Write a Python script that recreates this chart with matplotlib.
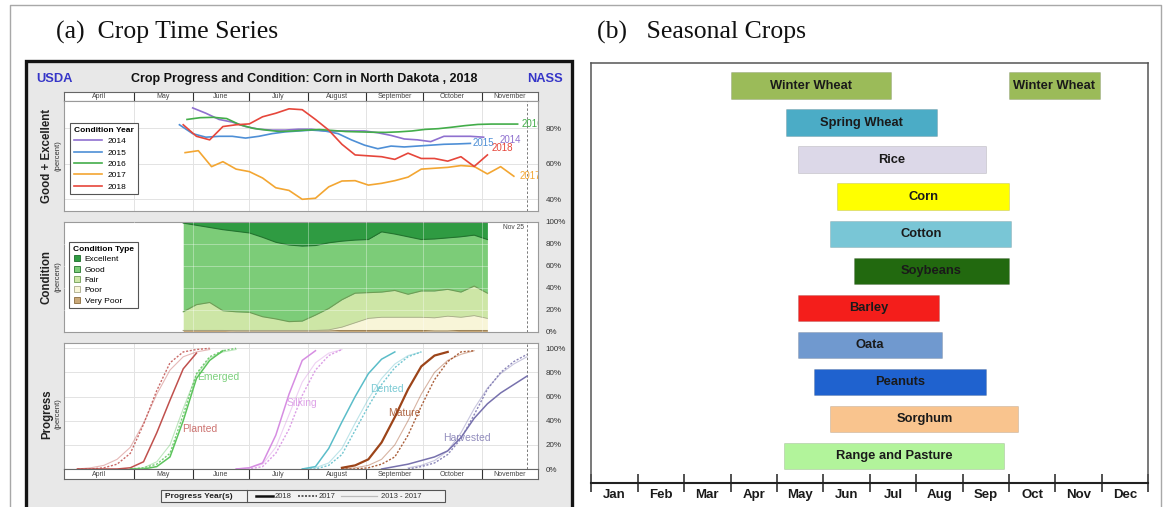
import matplotlib
matplotlib.use("Agg")
import matplotlib.pyplot as plt
from matplotlib.patches import Rectangle
from matplotlib.lines import Line2D
import numpy as np

plt.rcParams['font.family'] = ['Liberation Sans', 'DejaVu Sans']
SERIF = ['Liberation Serif', 'DejaVu Serif']

# ---------------------------------------------------------------------------
# (a) Corn in North Dakota, 2018 -- day-of-year calendar (2018)
# ---------------------------------------------------------------------------
band_months = ["April", "May", "June", "July", "August", "September", "October", "November"]
band_edges = [84, 121, 152, 182, 213, 244, 274, 305, 335]   # Mar 25 ... Dec 1
nov25 = 329

# Good + Excellent share by year (percent), weekly
ge_days_2014 = [152, 159, 166, 173, 180, 187, 194, 201, 208, 215, 222, 229, 236, 243,
                250, 257, 264, 271, 278, 285, 292, 299, 306]
ge_2014 = [91.5, 88.5, 85, 83.5, 81, 79.5, 79, 79, 79.5, 79.5, 78.5, 78.5, 78.5, 78.5,
           77.5, 76, 74, 73.5, 72.5, 75.5, 75.5, 75.5, 75]
ge_days_2015 = [145, 152, 159, 166, 173, 180, 187, 194, 201, 208, 215, 222, 229, 236,
                243, 250, 257, 264, 271, 278, 285, 292, 299]
ge_2015 = [82, 77, 75, 75.5, 75.5, 74.5, 75.5, 77, 78, 78.5, 79, 78.5, 77, 73.5,
           70.5, 68.5, 70, 69.5, 70, 70.5, 71, 71.2, 71.5]
ge_days_2016 = [149, 156, 163, 170, 177, 184, 191, 198, 205, 212, 219, 226, 233, 240,
                247, 254, 261, 268, 275, 282, 289, 296, 303, 310, 317, 324]
ge_2016 = [85, 86, 86.2, 85.5, 82, 80, 79, 78.2, 78.5, 79, 79.3, 78.8, 78.2, 78,
           77.8, 77.7, 78, 78.5, 79.4, 79.8, 80.6, 81.5, 82.2, 82.4, 82.4, 82.4]
ge_days_2017 = [148, 155, 162, 168, 175, 182, 189, 196, 203, 210, 217, 224, 231, 238,
                245, 252, 259, 266, 273, 280, 287, 294, 301, 308, 315, 322]
ge_2017 = [66.3, 67.4, 58.4, 61.2, 57, 55.6, 52, 46.5, 45, 40, 40.6, 47, 50.3, 50.5,
           48, 49, 50.5, 52.5, 57, 57.5, 58, 59, 58.5, 54.3, 58.4, 53]

# 2018 condition ratings (percent), weekly
cond_days = [147, 154, 161, 168, 175, 182, 189, 196, 203, 210, 217, 224,
             231, 238, 245, 252, 259, 266, 273, 280, 287, 294, 301, 308]
excellent_2018 = [1, 3, 5, 7, 8.5, 10, 14, 18.5, 21, 22, 21.5, 19,
                  17.5, 16.5, 16, 9, 11, 13.5, 16, 15.5, 14.5, 13.5, 12, 16]
good_2018 = [81, 72.5, 68.5, 74, 73.5, 72.5, 72.5, 70, 70, 68.5, 63.5, 60,
             53.5, 48.5, 48.5, 55, 51.5, 52.5, 47, 47.5, 47, 50.5, 46.5, 49]
poor_2018 = [0, 0, 0, 0, 0.5, 0.5, 0.5, 0.5, 0.5, 0.5, 0.5, 1,
             3, 7, 11, 12, 12, 12, 12, 12, 13.5, 12, 13.5, 11]
very_poor_2018 = [1, 1, 1, 1, 0.5, 0.5, 0.5, 0.5, 0.5, 0.5, 0.5, 0.5,
                  1, 1, 1, 1, 1, 1, 1, 0.5, 0.5, 1, 1, 1]

# Crop progress (percent complete), weekly: 2018, 2017 and 2013-2017 average
planted_days = [91, 98, 105, 112, 119, 126, 133, 140, 147, 154, 161]
planted_2018 = [0, 0, 0, 0, 1, 6, 30, 57, 83, 96, None]
planted_2017 = [0, 0, 1, 4, 13, 37, 65, 88, 97, 99, 100]
planted_avg = [0, 1, 3, 8, 18, 38, 62, 82, 93, 97, 99]

emerged_days = [119, 126, 133, 140, 147, 154, 161, 168, 175]
emerged_2018 = [0, 0, 2, 10, 40, 75, 90, 98, None]
emerged_2017 = [0, 1, 4, 13, 45, 79, 93, 98, 100]
emerged_avg = [0, 1, 6, 20, 50, 78, 92, 97, 99]

silking_days = [175, 182, 189, 196, 203, 210, 217, 224, 231]
silking_2018 = [0, 1, 5, 28, 62, 90, 98, None, None]
silking_2017 = [0, 0, 2, 13, 33, 61, 82, 94, 99]
silking_avg = [0, 1, 4, 18, 45, 72, 88, 96, 99]

dented_days = [210, 217, 224, 231, 238, 245, 252, 259, 266, 273]
dented_2018 = [0, 2, 17, 39, 60, 79, 91, 97, None, None]
dented_2017 = [0, 0, 3, 12, 32, 52, 70, 84, 93, 97]
dented_avg = [0, 1, 5, 17, 38, 58, 75, 87, 94, 97]

mature_days = [231, 238, 245, 252, 259, 266, 273, 280, 287, 294, 301]
mature_2018 = [1, 3, 8, 22, 43, 66, 85, 94, 97, None, None]
mature_2017 = [0, 0, 1, 4, 10, 28, 52, 74, 89, 97, 98]
mature_avg = [0, 1, 3, 8, 20, 40, 62, 80, 90, 95, 98]

harvested_days = [252, 259, 266, 273, 280, 287, 294, 301, 308, 315, 322, 329]
harvested_2018 = [0, 2, 4, 7, 10, 15, 26, 42, 54, 63, 70, 77]
harvested_2017 = [None, None, 0, 2, 5, 12, 25, 45, 66, 80, 89, 95]
harvested_avg = [None, None, 1, 3, 7, 15, 30, 50, 67, 79, 87, 93]

# ---------------------------------------------------------------------------
# (b) Seasonal crop calendar (months from Jan 1)
# ---------------------------------------------------------------------------
calendar_months = ["Jan", "Feb", "Mar", "Apr", "May", "Jun",
                   "Jul", "Aug", "Sep", "Oct", "Nov", "Dec"]
crop_names = ["Winter Wheat", "Winter Wheat", "Spring Wheat", "Rice", "Corn", "Cotton",
              "Soybeans", "Barley", "Oata", "Peanuts", "Sorghum", "Range and Pasture"]
season_start = [3.0, 9.0, 4.2, 4.45, 5.3, 5.15, 5.65, 4.45, 4.45, 4.8, 5.15, 4.15]
season_end = [6.45, 10.95, 7.45, 8.5, 9.0, 9.05, 9.0, 7.5, 7.55, 8.5, 9.2, 8.9]

crop_colors = {
    "Winter Wheat": "#9bbb59", "Spring Wheat": "#4bacc6", "Rice": "#dcd8e8",
    "Corn": "#ffff00", "Cotton": "#79c6d6", "Soybeans": "#22690f",
    "Barley": "#f41e1b", "Oata": "#7099cf", "Peanuts": "#1f62cf",
    "Sorghum": "#f9c48e", "Range and Pasture": "#b2f49b",
}

# ---------------------------------------------------------------------------
W, H = 1173, 507
fig = plt.figure(figsize=(W / 100, H / 100), dpi=100)


def px_rect(x0, y0, x1, y1):
    return [x0 / W, 1 - y1 / H, (x1 - x0) / W, (y1 - y0) / H]


bg = fig.add_axes([0, 0, 1, 1])
bg.set_xlim(0, W)
bg.set_ylim(H, 0)
bg.axis('off')
bg.plot([10, 10, 1161, 1161], [H + 2, 5, 5, H + 2], color='#a8a8a8', lw=1.0, clip_on=False)
bg.add_patch(Rectangle((26, 61), 546, 470, facecolor='#e8e8e8', edgecolor='#141414', lw=2.4))
bg.text(56, 32, "(a)  Crop Time Series", family=SERIF, fontsize=18.5, va='center', color='#111')
bg.text(597, 32, "(b)   Seasonal Crops", family=SERIF, fontsize=18.5, va='center', color='#111')

# dashboard header
bg.text(36, 79, "USDA", color='#3535c8', fontweight='bold', fontsize=9.3, va='center')
bg.text(304, 79, "Crop Progress and Condition: Corn in North Dakota , 2018",
        fontweight='bold', fontsize=9.0, ha='center', va='center', color='#111')
bg.text(563, 79, "NASS", color='#3535c8', fontweight='bold', fontsize=9.3, ha='right', va='center')

for label, yc in [("Good + Excellent", 156), ("Condition", 277), ("Progress", 414)]:
    bg.text(47, yc, label, rotation=90, fontweight='bold', fontsize=8.3,
            ha='center', va='center', color='#222')
    bg.text(58, yc, "(percent)", rotation=90, fontsize=5.5, ha='center', va='center', color='#333')

X0, X1 = 64.2, 538.4
DAY_MIN, DAY_MAX = band_edges[0], band_edges[-1]


def style_panel(ax, ylim, yticks, grid_color='#e3e3e3', grid_top=False):
    ax.set_facecolor('white')
    ax.set_xlim(DAY_MIN, DAY_MAX)
    ax.set_ylim(*ylim)
    ax.set_xticks([])
    ax.yaxis.tick_right()
    ax.set_yticks(yticks)
    ax.set_yticklabels([f"{t}%" for t in yticks])
    ax.tick_params(axis='y', length=0, labelsize=5.8, pad=5, labelcolor='#333')
    for s in ax.spines.values():
        s.set_color('#9a9a9a')
        s.set_linewidth(0.8)
    z = 3 if grid_top else 0
    alpha = 0.35 if grid_top else 1
    for d in band_edges[1:-1]:
        ax.axvline(d, color=grid_color, lw=0.7, zorder=z, alpha=alpha)
    for t in yticks:
        if ylim[0] < t < ylim[1]:
            ax.axhline(t, color=grid_color, lw=0.7, zorder=z, alpha=alpha)
    ax.axvline(nov25, color='#7a7a7a', lw=0.7, ls=(0, (2.5, 2)), zorder=4)


def month_band(y0, y1):
    axb = fig.add_axes(px_rect(X0, y0, X1, y1))
    axb.set_xlim(DAY_MIN, DAY_MAX)
    axb.set_ylim(0, 1)
    axb.set_xticks([])
    axb.set_yticks([])
    axb.set_facecolor('white')
    for d in band_edges[1:-1]:
        axb.axvline(d, color='#333', lw=0.8)
    for name, a, b in zip(band_months, band_edges[:-1], band_edges[1:]):
        axb.text((a + b) / 2, 0.5, name, ha='center', va='center', fontsize=5, color='#444')
    for s in axb.spines.values():
        s.set_color('#666')
        s.set_linewidth(0.8)


# --- Good + Excellent panel ---
month_band(92, 101)
ax1 = fig.add_axes(px_rect(X0, 101, X1, 211))
style_panel(ax1, (33.4, 95.4), [40, 60, 80])

ge_2018 = [g + e for g, e in zip(good_2018, excellent_2018)]
year_series = [
    ("2014", ge_days_2014, ge_2014, '#8f70cf', (16, -3)),
    ("2015", ge_days_2015, ge_2015, '#4e8fd6', (2, 0)),
    ("2016", ge_days_2016, ge_2016, '#43ad4a', (4, 0)),
    ("2017", ge_days_2017, ge_2017, '#f3a632', (6, 0)),
    ("2018", cond_days, ge_2018, '#e6463b', (4, 7)),
]
for name, d, v, c, off in year_series:
    ax1.plot(d, v, color=c, lw=1.2, zorder=5)
    ax1.annotate(name, (d[-1], v[-1]), xytext=(off[0] * 0.72, off[1] * 0.72),
                 textcoords='offset points', color=c, fontsize=7, ha='left', va='center',
                 annotation_clip=False, clip_on=True, zorder=6)

year_handles = [Line2D([], [], color=c, lw=1.2) for _, _, _, c, _ in year_series]
leg1 = ax1.legend(year_handles, [n for n, *_ in year_series], title="Condition Year",
                  loc='upper left', bbox_to_anchor=(66 / W, 1 - 119 / H),
                  bbox_transform=fig.transFigure, fontsize=6, title_fontsize=6,
                  handlelength=3.4, labelspacing=0.42, borderpad=0.45, handletextpad=0.6,
                  fancybox=False, framealpha=1, edgecolor='#555', alignment='left')
leg1.get_title().set_fontweight('bold')
leg1.get_frame().set_linewidth(0.8)
leg1.set_zorder(10)

# --- Condition panel ---
ax2 = fig.add_axes(px_rect(X0, 222, X1, 331.5))
style_panel(ax2, (0, 100), [0, 20, 40, 60, 80, 100], grid_color='white', grid_top=True)
vp = np.array(very_poor_2018, dtype=float)
poor = np.array(poor_2018, dtype=float)
good = np.array(good_2018, dtype=float)
exc = np.array(excellent_2018, dtype=float)
fair = 100 - vp - poor - good - exc
layers = [("Very Poor", vp, '#c9a878', '#8a6b3c'),
          ("Poor", poor, '#f8f5d8', '#a9a98a'),
          ("Fair", fair, '#cde6a6', '#6f9d55'),
          ("Good", good, '#7ccc78', '#23752d'),
          ("Excellent", exc, '#2f9b42', '#1c6d2a')]
base = np.zeros(len(cond_days))
for name, vals, fc, ec in layers:
    top = base + vals
    ax2.fill_between(cond_days, base, top, color=fc, lw=0, zorder=1)
    ax2.plot(cond_days, top, color=ec, lw=0.8 if name in ("Good", "Fair") else 0.6, zorder=2)
    base = top
ax2.text(nov25 - 1.5, 95, "Nov 25", fontsize=4.8, color='#444', ha='right', va='center', zorder=5)

cond_handles = [Line2D([], [], ls='', marker='s', markersize=4, markerfacecolor=fc,
                       markeredgecolor=ec, markeredgewidth=0.6)
                for _, _, fc, ec in layers[::-1]]
leg2 = ax2.legend(cond_handles, [n for n, *_ in layers[::-1]], title="Condition Type",
                  loc='upper left', bbox_to_anchor=(65 / W, 1 - 238 / H),
                  bbox_transform=fig.transFigure, fontsize=6, title_fontsize=6,
                  handlelength=1.0, labelspacing=0.3, borderpad=0.45, handletextpad=0.4,
                  fancybox=False, framealpha=1, edgecolor='#555', alignment='left')
leg2.get_title().set_fontweight('bold')
leg2.get_frame().set_linewidth(0.8)
leg2.set_zorder(10)

# --- Progress panel ---
ax3 = fig.add_axes(px_rect(X0, 343, X1, 469))
style_panel(ax3, (0, 104.4), [0, 20, 40, 60, 80, 100])
month_band(469, 479)

stages = [
    ("Planted", planted_days, planted_2018, planted_2017, planted_avg, '#c0504d', (156, 33)),
    ("Emerged", emerged_days, emerged_2018, emerged_2017, emerged_avg, '#5cc45c', (165.5, 76)),
    ("Silking", silking_days, silking_2018, silking_2017, silking_avg, '#d68de2', (210, 55)),
    ("Dented", dented_days, dented_2018, dented_2017, dented_avg, '#5bbdc9', (255, 66)),
    ("Mature", mature_days, mature_2018, mature_2017, mature_avg, '#9c4419', (264, 46)),
    ("Harvested", harvested_days, harvested_2018, harvested_2017, harvested_avg, '#7771ad', (297, 26)),
]


def clean(days, vals):
    pairs = [(d, v) for d, v in zip(days, vals) if v is not None]
    return [p[0] for p in pairs], [p[1] for p in pairs]


for name, days, v18, v17, vavg, c, (lx, ly) in stages:
    ax3.plot(*clean(days, vavg), color=c, lw=0.8, alpha=0.4, zorder=2)
    ax3.plot(*clean(days, v17), color=c, lw=1.0, ls=(0, (1.5, 1.2)), alpha=0.85, zorder=3)
    ax3.plot(*clean(days, v18), color=c, lw=1.6 if name == "Mature" else 1.1, zorder=4)
    ax3.text(lx, ly, name, color=c, alpha=0.8, fontsize=7.5, ha='center', va='center', zorder=5)

# progress legend strip
bg.add_patch(Rectangle((161, 490), 284, 12, facecolor='#f2f2f2', edgecolor='#555', lw=0.8))
bg.plot([247, 247], [490, 502], color='#555', lw=0.8)
bg.text(165, 496.2, "Progress Year(s)", fontweight='bold', fontsize=6, va='center', color='#222')
bg.plot([256, 273], [496, 496], color='#111', lw=1.8)
bg.text(275, 496.2, "2018", fontsize=5.5, va='center', color='#333')
bg.plot([298, 317], [496, 496], color='#333', lw=1.1, ls=(0, (1.3, 1.0)))
bg.text(319, 496.2, "2017", fontsize=5.5, va='center', color='#333')
bg.plot([341, 377], [496, 496], color='#bbbbbb', lw=0.9)
bg.text(381, 496.2, "2013 - 2017", fontsize=5.5, va='center', color='#333')

# ---------------------------------------------------------------------------
# (b) Seasonal crops
# ---------------------------------------------------------------------------
axr = fig.add_axes(px_rect(591.3, 63.3, 1148.3, 482.5))
row_order = list(dict.fromkeys(crop_names))
rows = [row_order.index(n) for n in crop_names]
widths = [e - s for s, e in zip(season_start, season_end)]
axr.barh(rows, widths, left=season_start, height=0.71,
         color=[crop_colors[n] for n in crop_names], edgecolor='#00000022', linewidth=0.6)
for n, r, s, e in zip(crop_names, rows, season_start, season_end):
    axr.text((s + e) / 2, r, n, ha='center', va='center', fontsize=9.3,
             fontweight='bold', color='#1a1a1a')
axr.set_xlim(0, 12)
axr.set_ylim(len(row_order) - 1 + 0.72, -0.6)
axr.set_yticks([])
axr.set_xticks(range(13))
axr.set_xticklabels([])
axr.set_xticks(np.arange(12) + 0.5, minor=True)
axr.set_xticklabels(calendar_months, minor=True, fontsize=9.5, fontweight='bold')
axr.tick_params(axis='x', which='major', direction='inout', length=13, width=1.2, color='#333')
axr.tick_params(axis='x', which='minor', length=0, pad=5, labelcolor='#1a1a1a')
for side in ('top', 'left', 'right'):
    axr.spines[side].set_color('#555')
    axr.spines[side].set_linewidth(1.1)
axr.spines['bottom'].set_color('#222')
axr.spines['bottom'].set_linewidth(1.5)

fig.savefig("out.png", dpi=100)
